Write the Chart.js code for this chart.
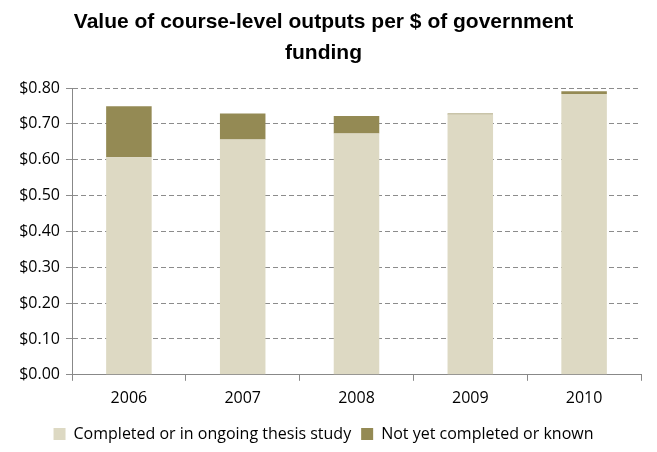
<!DOCTYPE html>
<html lang="en">
<head>
<meta charset="UTF-8">
<title>Course-level outputs per $ of funding</title>
<script src="https://cdn.jsdelivr.net/npm/chart.js"></script>
<style>
  html, body { margin: 0; padding: 0; background: #fff; }
  #wrap { width: 657px; height: 452px; }
</style>
</head>
<body>
<div id="wrap"><canvas id="myChart" width="657" height="452"></canvas></div>
<script>
// years along the x axis
var years = ['2006', '2007', '2008', '2009', '2010'];
// value per $ of funding, split into the two stacked parts
var completed = [0.607, 0.656, 0.673, 0.726, 0.783];
var notYet = [0.142, 0.073, 0.049, 0.003, 0.008];
var yTicks = [0, 0.1, 0.2, 0.3, 0.4, 0.5, 0.6, 0.7, 0.8];

var tickFont = { family: '"Open Sans", Lato, sans-serif', size: 16 };

var ctx = document.getElementById('myChart').getContext('2d');
var myChart = new Chart(ctx, {
    type: 'bar',
    data: {
        labels: years,
        datasets: [{
            label: 'Completed or in ongoing thesis study',
            data: completed,
            backgroundColor: '#DDD9C3',
            categoryPercentage: 1,
            barPercentage: 0.4
        }, {
            label: 'Not yet completed or known',
            data: notYet,
            backgroundColor: '#948A54',
            categoryPercentage: 1,
            barPercentage: 0.4
        }]
    },
    options: {
        responsive: false,
        animation: false,
        layout: { padding: { left: 6, right: 16, top: 6, bottom: 0 } },
        plugins: {
            title: {
                display: true,
                text: ['Value of course-level outputs per $ of government', 'funding'],
                color: '#000',
                font: { family: '"Liberation Sans", Arial, sans-serif', size: 21, weight: 'bold', lineHeight: 1.5 },
                padding: { top: 0, bottom: 19 }
            },
            legend: {
                position: 'bottom',
                labels: {
                    color: '#000',
                    font: tickFont,
                    boxWidth: 12,
                    boxHeight: 12,
                    padding: 10
                }
            },
            tooltip: { enabled: false }
        },
        scales: {
            x: {
                stacked: true,
                grid: {
                    display: true,
                    drawOnChartArea: false,
                    offset: true,
                    tickLength: 6,
                    color: '#888'
                },
                border: { color: '#888' },
                ticks: { color: '#000', font: tickFont, padding: 8 }
            },
            y: {
                stacked: true,
                min: 0,
                max: 0.8,
                afterBuildTicks: function (scale) {
                    scale.ticks = yTicks.map(function (v) { return { value: v }; });
                },
                afterFit: function (scale) { scale.width = 66; },
                grid: {
                    color: '#8c8c8c',
                    tickBorderDash: [],
                    tickLength: 6
                },
                border: { color: '#888', dash: [5, 3] },
                ticks: {
                    color: '#000',
                    font: tickFont,
                    padding: 6,
                    callback: function (v) { return '$' + Number(v).toFixed(2); }
                }
            }
        }
    }
});
</script>
</body>
</html>
